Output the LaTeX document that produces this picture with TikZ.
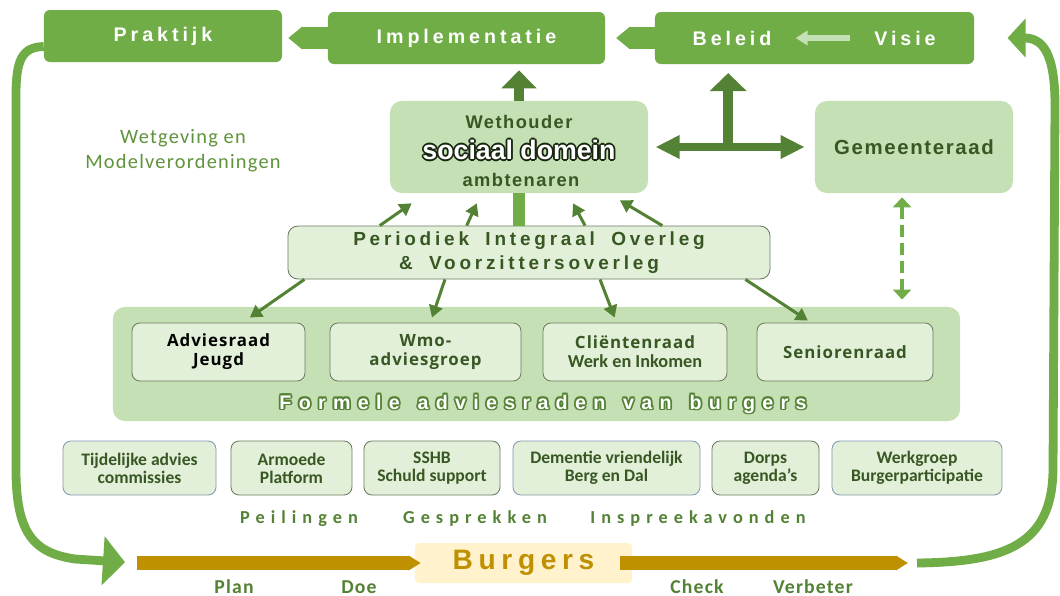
\documentclass[tikz,border=0pt]{standalone}
\usepackage{fontspec}
\usetikzlibrary{arrows.meta,calc}
\definecolor{offgr}{HTML}{70AD47}
\definecolor{lightgr}{HTML}{C5E0B4}
\definecolor{palegr}{HTML}{E2F0D9}
\definecolor{darkgr}{HTML}{548235}
\definecolor{textgr}{HTML}{385723}
\definecolor{rimgr}{HTML}{6B7A5F}
\definecolor{bluerim}{HTML}{8497B0}
\definecolor{gold}{HTML}{BF9000}
\definecolor{cream}{HTML}{FFF2CC}
\newfontfamily\headfont[LetterSpace=20,WordSpace=1.8]{Liberation Sans}
\newfontfamily\midfont[LetterSpace=8]{Liberation Sans}
\newfontfamily\widefont[LetterSpace=37,WordSpace=1.4]{Liberation Sans}
\newfontfamily\plainfont{Liberation Sans}
\newfontfamily\calfont{Carlito}
\newfontfamily\calmid[LetterSpace=6]{Carlito}
\newfontfamily\calwide[LetterSpace=33]{Carlito}
\newfontfamily\opfont[LetterSpace=6]{Open Sans}
\newcommand\sized[2]{\fontsize{#1}{#2}\selectfont}
% white text with a coloured rim: name, position, font, rim colour, text
\newcommand\rimlabel[5]{%
  \foreach \a in {0,45,...,315}
    \node[font=#3,text=#4,inner sep=0pt] at ($(#2)+(\a:0.045cm)$) {#5};
  \node[font=#3,text=white,inner sep=0pt] (#1) at (#2) {#5};}

\begin{document}
\begin{tikzpicture}[x=0.025cm,y=-0.025cm,
    topbox/.style={fill=offgr,rounded corners=0.15cm,minimum height=1.3cm,text=white,font=\headfont\bfseries\sized{14}{16}},
    toplabel/.style={text=white,inner sep=0pt,font=\headfont\bfseries\sized{14}{16}},
    softbox/.style={fill=lightgr,rounded corners=0.3cm,minimum height=2.3cm},
    advbox/.style={fill=palegr,draw=rimgr,line width=0.6pt,rounded corners=0.2cm,minimum height=1.45cm,align=center,text=textgr,font=\opfont\bfseries\sized{12}{13.5}},
    lowbox/.style={fill=palegr,draw=rimgr,line width=0.6pt,rounded corners=0.2cm,minimum height=1.35cm,align=center,text=textgr,font=\calfont\bfseries\sized{12.5}{12.75}},
    thinarr/.style={darkgr,line width=0.075cm,-{Triangle[length=0.3cm,width=0.34cm]}},
    goldarr/.style={gold,line width=0.35cm,-{Triangle[length=0.3cm,width=0.35cm]}},
    cyclearr/.style={offgr,line width=0.22cm,-{Triangle[length=0.55cm,width=1.2cm]}}]
  \fill[white] (0,0) rectangle (1060,595);
  \useasboundingbox (0,0) rectangle (1060,595);

  % top row
  \node[topbox,minimum width=5.95cm] (Prak) at (163,36) {Praktijk};
  \node[topbox,minimum width=6.925cm] (Impl) at (466.5,38) {Implementatie};
  \node[topbox,minimum width=7.975cm] (BV) at (814.5,38) {};
  \node[toplabel] (Bel) at (732,38) {Beleid};
  \node[toplabel] (Vis) at (905,38) {Visie};

  % middle
  \node[softbox,minimum width=6.45cm] (W) at (519,147) {};
  \node[text=textgr,font=\midfont\bfseries\sized{13}{15}] (Weth) at (519,122) {Wethouder};
  \rimlabel{Soc}{519,150}{\plainfont\bfseries\sized{19}{21}}{black!55!textgr}{sociaal domein}
  \node[text=textgr,font=\midfont\bfseries\sized{13}{15}] (Amb) at (521,180) {ambtenaren};
  \node[softbox,minimum width=4.95cm,text=textgr,font=\midfont\bfseries\sized{14.5}{16}] (G) at (914,147) {Gemeenteraad};
  \node[text=offgr!85!black,font=\calmid\sized{14.5}{17.7},align=center] (Wet) at (183,151) {Wetgeving en\\Modelverordeningen};
  \node[fill=palegr,draw=rimgr,line width=0.6pt,rounded corners=0.25cm,minimum width=12.05cm,minimum height=1.325cm,
    align=center,text=textgr,font=\headfont\bfseries\sized{13.5}{17}] (PIO) at (529,252.5) {Periodiek Integraal Overleg\\\& Voorzittersoverleg};

  % formele adviesraden
  \node[fill=lightgr,rounded corners=0.3cm,minimum width=21.175cm,minimum height=2.85cm] (F) at (536.5,364) {};
  \node[advbox,minimum width=4.325cm,text=black] (AJ) at (218.5,352) {Adviesraad\\Jeugd};
  \node[advbox,minimum width=4.775cm] (Wmo) at (425.5,352) {Wmo-\\adviesgroep};
  \node[advbox,minimum width=4.6cm] (CR) at (635,352) {Cliëntenraad\\{\calfont\sized{13}{13.5}Werk en Inkomen}};
  \node[advbox,minimum width=4.4cm] (SR) at (845,352) {Seniorenraad};
  \rimlabel{FL}{543,404}{\widefont\bfseries\sized{14}{16}}{darkgr}{Formele adviesraden van burgers}

  % other groups
  \node[lowbox,draw=bluerim,minimum width=3.825cm] (TA) at (139.5,468) {Tijdelijke advies\\commissies};
  \node[lowbox,minimum width=3.025cm] (AP) at (291.5,468) {Armoede\\Platform};
  \node[lowbox,minimum width=3.4cm] (SS) at (432,468) {SSHB\\Schuld support};
  \node[lowbox,draw=bluerim,minimum width=4.675cm] (DV) at (606.5,468) {Dementie vriendelijk\\Berg en Dal};
  \node[lowbox,minimum width=2.675cm] (DA) at (765.5,468) {Dorps\\agenda’s};
  \node[lowbox,draw=bluerim,minimum width=4.25cm] (WB) at (917,468) {Werkgroep\\Burgerparticipatie};
  \node[text=darkgr,font=\calwide\bfseries\sized{13}{15}] (Peil) at (299,519) {Peilingen};
  \node[text=darkgr,font=\calwide\bfseries\sized{13}{15}] (Gesp) at (475,519) {Gesprekken};
  \node[text=darkgr,font=\calwide\bfseries\sized{13}{15}] (Insp) at (698,519) {Inspreekavonden};

  % burgers and the cycle
  \node[fill=cream,rounded corners=0.1cm,minimum width=5.425cm,minimum height=1cm,text=gold,font=\headfont\bfseries\sized{20}{22}] (Bu) at (523.5,563) {Burgers};
  \coordinate (OL) at (137,563);
  \coordinate (OR) at (908,563);
  \draw[goldarr,shorten >=-0.15cm] (OL) -- (Bu.west);
  \draw[goldarr,shorten <=-0.3cm] (Bu.east) -- (OR);
  \node[text=darkgr,font=\calmid\bfseries\sized{14}{16}] (Plan) at (234,587) {Plan};
  \node[text=darkgr,font=\calmid\bfseries\sized{14}{16}] (Doe) at (359,587) {Doe};
  \node[text=darkgr,font=\calmid\bfseries\sized{14}{16}] (Check) at (697,587) {Check};
  \node[text=darkgr,font=\calmid\bfseries\sized{14}{16}] (Verb) at (813,587) {Verbeter};
  \draw[cyclearr,shorten >=0.3cm] ($(Prak.south west)!0.3!(Prak.north west)$) .. controls (22,47) and (16,60) .. (16,95)
    -- (16,470) .. controls (16,535) and (35,553) .. (75,559) -- (OL);
  \draw[cyclearr,-{Triangle[length=0.45cm,width=0.95cm]},shorten >=0.83cm] ($(OR)+(9,0)$) .. controls (1005,562) and (1052,545) .. (1053,470)
    -- (1055,105) .. controls (1055,52) and (1042,38) .. (BV.east);

  % connectors
  \draw[offgr,line width=0.55cm,-{Triangle[length=0.35cm,width=0.55cm]},shorten >=0.15cm] (Impl.west) -- (Impl.west -| Prak.east);
  \draw[offgr,line width=0.55cm,-{Triangle[length=0.35cm,width=0.55cm]},shorten >=0.27cm] (BV.west) -- (BV.west -| Impl.east);
  \draw[lightgr,line width=0.13cm,-{Triangle[length=0.3cm,width=0.36cm]},shorten <=0.6cm,shorten >=0.6cm] (Vis) -- (Bel);
  \draw[darkgr,line width=0.23cm,-{Triangle[length=0.45cm,width=0.85cm]},shorten >=0.15cm] (W.north) -- (W.north |- Impl.south);
  \coordinate (T) at ($(W.east)!0.48!(G.west)$);
  \draw[darkgr,line width=0.18cm,{Triangle[length=0.6cm,width=0.55cm]}-{Triangle[length=0.6cm,width=0.55cm]},
    shorten <=0.18cm,shorten >=0.25cm] (W.east) -- (G.west);
  \draw[darkgr,line width=0.25cm,-{Triangle[length=0.45cm,width=0.9cm]},shorten >=0.22cm] (T) -- (T |- BV.south);
  \draw[offgr,line width=0.3cm] (W.south) -- (W.south |- PIO.north);
  \draw[thinarr] ($(PIO.north west)!0.191!(PIO.north east)$) -- ($(W.south west)!0.085!(W.south east)+(0,10)$);
  \draw[thinarr] ($(PIO.north west)!0.371!(PIO.north east)$) -- ($(W.south west)!0.337!(W.south east)+(0,10)$);
  \draw[thinarr] ($(PIO.north west)!0.616!(PIO.north east)$) -- ($(W.south west)!0.709!(W.south east)+(0,10)$);
  \draw[thinarr] ($(PIO.north west)!0.776!(PIO.north east)$) -- ($(W.south west)!0.89!(W.south east)+(0,7)$);
  \draw[thinarr] ($(PIO.south west)!0.035!(PIO.south east)$) -- ($(AJ.north west)!0.68!(AJ.north east)+(0,-5)$);
  \draw[thinarr] ($(PIO.south west)!0.326!(PIO.south east)$) -- ($(Wmo.north west)!0.534!(Wmo.north east)+(0,-5)$);
  \draw[thinarr] ($(PIO.south west)!0.647!(PIO.south east)$) -- ($(CR.north west)!0.39!(CR.north east)+(0,-5)$);
  \draw[thinarr] ($(PIO.south west)!0.948!(PIO.south east)$) -- ($(SR.north west)!0.29!(SR.north east)+(0,-2)$);
  \coordinate (Gd) at ($(G.south west)!0.44!(G.south east)$);
  \draw[offgr,line width=0.1cm,dash pattern=on 0.3cm off 0.15cm,{Triangle[length=0.25cm,width=0.45cm]}-{Triangle[length=0.25cm,width=0.45cm]},
    shorten <=0.1cm,shorten >=0.18cm] (Gd) -- (Gd |- F.north);
\end{tikzpicture}
\end{document}
